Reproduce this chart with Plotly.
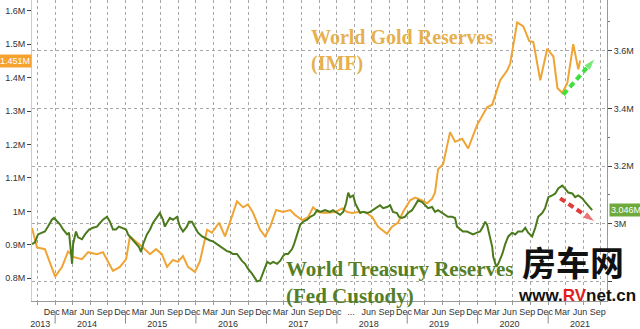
import plotly.graph_objects as go

# ---------------- data ----------------
gold_dates = ["2013-09-03","2013-09-29","2013-11-09","2014-01-01","2014-02-06","2014-03-09","2014-04-09","2014-05-20",
"2014-06-21","2014-08-06","2014-09-06","2014-10-28","2014-12-03","2015-01-04","2015-01-24","2015-02-25","2015-04-02",
"2015-05-08","2015-06-08","2015-07-09","2015-08-04","2015-09-04","2015-09-30","2015-10-26","2015-11-21","2015-12-27",
"2016-01-22","2016-02-28","2016-03-24","2016-04-30","2016-05-31","2016-06-26","2016-08-01","2016-09-02","2016-09-27",
"2016-10-24","2016-11-29","2016-12-25","2017-01-20","2017-02-20","2017-03-28","2017-05-04","2017-05-29","2017-07-05",
"2017-08-05","2017-08-31","2017-09-26","2017-11-01","2017-12-23","2018-01-29","2018-02-24","2018-03-22","2018-04-22",
"2018-05-28","2018-07-03","2018-08-03","2018-09-18","2018-10-14","2018-11-14","2018-12-10","2019-01-16","2019-02-11",
"2019-03-19","2019-04-14","2019-05-10","2019-05-25","2019-06-10","2019-07-06","2019-08-11","2019-09-06","2019-10-13",
"2019-11-13","2019-12-29","2020-02-19","2020-03-17","2020-04-27","2020-06-03","2020-06-18","2020-07-24","2020-08-25",
"2020-09-25","2020-10-16","2020-11-21","2020-12-27","2021-01-28","2021-02-18","2021-03-15","2021-04-10","2021-05-11",
"2021-06-06","2021-06-16"]
gold_values = [0.950,0.892,0.887,0.805,0.834,0.880,0.863,0.857,
0.878,0.872,0.878,0.822,0.834,0.857,0.925,0.910,0.892,
0.872,0.887,0.872,0.834,0.855,0.849,0.866,0.834,0.819,
0.851,0.945,0.936,0.966,0.925,0.968,1.030,1.012,1.021,
0.995,0.945,0.925,0.954,1.004,0.998,1.004,0.989,0.974,
0.983,1.012,0.998,0.995,0.998,1.009,0.998,0.995,0.998,
0.998,0.983,0.954,0.933,0.954,0.966,0.998,1.033,1.041,
1.033,1.024,1.038,1.056,1.126,1.141,1.237,1.208,1.217,
1.188,1.258,1.311,1.319,1.392,1.422,1.442,1.565,1.553,
1.509,1.506,1.392,1.486,1.463,1.369,1.354,1.383,1.500,
1.425,1.451]

tsy_dates = ["2013-09-03","2013-09-19","2013-10-04","2013-10-25","2013-11-09","2013-11-25","2013-12-15","2013-12-26",
"2014-01-11","2014-01-27","2014-02-11","2014-03-04","2014-03-14","2014-03-30","2014-04-04","2014-04-19","2014-04-30",
"2014-05-20","2014-06-05","2014-06-26","2014-07-16","2014-08-06","2014-08-22","2014-09-06","2014-09-27","2014-10-12",
"2014-10-28","2014-11-12","2014-11-28","2014-12-18","2015-01-04","2015-01-14","2015-02-04","2015-02-25","2015-03-12",
"2015-03-23","2015-04-02","2015-04-22","2015-05-08","2015-05-23","2015-06-13","2015-06-28","2015-07-14","2015-07-24",
"2015-08-04","2015-08-19","2015-09-04","2015-09-25","2015-10-10","2015-10-26","2015-11-15","2015-11-26","2015-12-11",
"2015-12-27","2016-01-12","2016-02-02","2016-02-28","2016-03-14","2016-03-30","2016-04-20","2016-05-05","2016-05-21",
"2016-06-10","2016-06-26","2016-07-11","2016-08-01","2016-08-12","2016-08-27","2016-09-12","2016-09-27","2016-10-18",
"2016-11-03","2016-11-13","2016-11-29","2016-12-14","2016-12-25","2017-01-05","2017-01-20","2017-02-05","2017-02-25",
"2017-03-13","2017-03-28","2017-04-08","2017-04-23","2017-05-14","2017-05-24","2017-06-09","2017-06-25","2017-07-10",
"2017-07-31","2017-08-16","2017-09-05","2017-09-21","2017-10-06","2017-11-01","2017-11-27","2017-12-12","2018-01-03",
"2018-01-18","2018-02-03","2018-02-18","2018-03-01","2018-03-11","2018-03-27","2018-04-06","2018-04-16","2018-05-02",
"2018-05-17","2018-06-07","2018-06-23","2018-07-08","2018-07-29","2018-08-13","2018-08-29","2018-09-18","2018-10-04",
"2018-10-19","2018-11-09","2018-11-19","2018-12-04","2018-12-20","2019-01-05","2019-01-26","2019-02-11","2019-02-26",
"2019-03-19","2019-04-03","2019-04-19","2019-05-10","2019-05-25","2019-06-10","2019-06-30","2019-07-16","2019-07-31",
"2019-08-21","2019-09-06","2019-09-16","2019-10-02","2019-10-17","2019-11-07","2019-11-23","2019-12-08","2019-12-29",
"2020-01-14","2020-01-29","2020-02-09","2020-02-19","2020-03-01","2020-03-17","2020-03-22","2020-04-07","2020-04-17",
"2020-05-08","2020-05-23","2020-06-08","2020-06-28","2020-07-14","2020-07-29","2020-08-19","2020-09-04","2020-09-19",
"2020-10-10","2020-10-26","2020-11-10","2020-12-01","2020-12-16","2021-01-02","2021-01-22","2021-02-07","2021-02-22",
"2021-03-15","2021-03-30","2021-04-15","2021-05-06","2021-05-21","2021-06-06","2021-06-27","2021-07-12","2021-07-28",
"2021-08-17"]
tsy_values = [2.929,2.936,2.963,2.969,2.973,2.990,3.014,3.020,
3.007,2.997,2.980,2.963,2.969,2.861,2.929,2.973,2.953,
2.946,2.963,2.980,2.986,2.990,3.003,3.014,3.024,3.007,
2.980,2.980,2.990,2.986,2.980,2.963,2.946,2.929,2.919,
2.902,2.929,2.963,2.980,3.003,3.024,3.037,3.014,2.990,
3.003,3.020,3.014,3.024,2.990,2.973,2.990,3.007,3.007,
2.990,2.969,2.956,2.946,2.942,2.939,2.929,2.922,2.912,
2.905,2.902,2.895,2.895,2.885,2.871,2.861,2.844,2.827,
2.810,2.800,2.803,2.827,2.851,2.868,2.861,2.868,2.861,
2.871,2.888,2.895,2.895,2.912,2.929,2.963,2.997,3.007,
3.014,3.024,3.031,3.047,3.041,3.047,3.041,3.047,3.037,
3.031,3.041,3.071,3.108,3.092,3.098,3.071,3.058,3.037,
3.041,3.037,3.041,3.047,3.058,3.064,3.054,3.058,3.064,
3.041,3.037,3.024,3.020,3.024,3.037,3.047,3.064,3.081,
3.075,3.064,3.054,3.058,3.041,3.047,3.037,3.031,3.024,
3.024,3.020,2.990,2.980,2.973,2.973,2.969,2.963,2.969,
2.973,2.990,3.007,2.997,2.969,2.919,2.885,2.851,2.861,
2.895,2.929,2.956,2.969,2.963,2.973,2.973,2.986,2.969,
2.956,2.986,3.024,3.037,3.054,3.092,3.098,3.105,3.122,
3.132,3.122,3.108,3.105,3.092,3.098,3.088,3.075,3.064,
3.047]

gold_last = 1.451
tsy_last = 3.046

# trend arrows (start, end)
up_arrow_dates = ["2021-03-20", "2021-09-01"]
up_arrow_values = [1.349, 1.457]
down_arrow_dates = ["2021-03-04", "2021-09-01"]
down_arrow_values = [3.088, 3.007]

# axis ticks
left_tickvals = [0.8, 0.9, 1.0, 1.1, 1.2, 1.3, 1.4, 1.5, 1.6]
left_ticktext = ["0.8M", "0.9M", "1M", "1.1M", "1.2M", "1.3M", "1.4M", "1.5M", "1.6M"]
right_tickvals = [2.8, 3.0, 3.2, 3.4, 3.6]
right_ticktext = ["", "3M", "3.2M", "3.4M", "3.6M"]

x_tickvals = ["2013-10-16"]
x_ticktext = ["<br>2013"]
for yr in range(2013, 2022):
    for mo, name in [(3, "Mar"), (6, "Jun"), (9, "Sep"), (12, "Dec")]:
        d = f"{yr}-{mo:02d}-15"
        if d < "2013-12-01" or d > "2021-10-01":
            continue
        txt = name
        if yr == 2018 and mo == 3:
            txt = "..."
        if mo == 6:
            txt = f"{name}<br>{yr}"
        x_tickvals.append(d)
        x_ticktext.append(txt)
year_starts = [f"{y}-01-01" for y in range(2014, 2022)]

GOLD = "#EFA433"
GOLD_TXT = "#E6B04E"
GREEN = "#4B7A1C"
GREEN_TXT = "#557F26"
TICKFONT = dict(family="Liberation Sans, Arial", size=9, color="#333333")

fig = go.Figure()
fig.add_trace(go.Scatter(x=gold_dates, y=gold_values, mode="lines",
                         line=dict(color=GOLD, width=2), yaxis="y", showlegend=False))
fig.add_trace(go.Scatter(x=tsy_dates, y=tsy_values, mode="lines",
                         line=dict(color=GREEN, width=2), yaxis="y2", showlegend=False))
fig.add_trace(go.Scatter(x=up_arrow_dates, y=up_arrow_values, mode="lines+markers",
                         line=dict(color="#3FE03F", width=4, dash="6px,4px"),
                         marker=dict(symbol="arrow", size=[0, 13], angleref="previous", color="#3FE03F"),
                         yaxis="y", showlegend=False))
fig.add_trace(go.Scatter(x=down_arrow_dates, y=down_arrow_values, mode="lines+markers",
                         line=dict(color="#E23B3B", width=4, dash="6px,4px"),
                         marker=dict(symbol="arrow", size=[0, 13], angleref="previous", color="#E23B3B"),
                         yaxis="y2", showlegend=False))

annotations = [
    dict(text="<b>World Gold Reserves<br>(IMF)</b>", x="2017-08-10", y=1.56, xref="x", yref="y",
         xanchor="left", yanchor="top", align="left", showarrow=False,
         font=dict(family="Liberation Serif, Times New Roman", size=20, color=GOLD_TXT)),
    dict(text="<b>World Treasury Reserves<br>(Fed Custody)</b>", x="2017-04-01", y=2.893, xref="x", yref="y2",
         xanchor="left", yanchor="top", align="left", showarrow=False,
         font=dict(family="Liberation Serif, Times New Roman", size=21, color=GREEN_TXT)),
    dict(text=f"{gold_last:.3f}M", x=0, y=gold_last, xref="paper", yref="y", xanchor="right",
         yanchor="middle", showarrow=False, bgcolor="#F5A231", borderpad=1,
         font=dict(family="Liberation Sans, Arial", size=9, color="white")),
    dict(text=f"{tsy_last:.3f}M", x=1, y=tsy_last, xref="paper", yref="y2", xanchor="left",
         yanchor="middle", showarrow=False, bgcolor="#6EAA3C", borderpad=1, xshift=2,
         font=dict(family="Liberation Sans, Arial", size=9, color="white")),
    dict(text="<b>房车网</b>", x=573, y=268, xref="paper", yref="paper", showarrow=False,
         xanchor="center", yanchor="middle", borderpad=0,
         font=dict(family="Noto Sans CJK SC", size=34, color="#111111")),
    dict(text="<b>www.<span style='color:#E01E1E'>RV</span>net.cn</b>", x=577, y=302, xref="paper",
         yref="paper", showarrow=False, xanchor="center", yanchor="middle", borderpad=0,
         font=dict(family="Liberation Sans, Arial", size=17, color="#111111")),
]
# watermark positioned in pixel terms -> convert to paper coords
W, H, L, R, T, B = 640, 329, 32, 33, 0, 21
pw, ph = W - L - R, H - T - B
for a in annotations[4:]:
    a["x"] = (a["x"] - L) / pw
    a["y"] = (H - B - a["y"]) / ph

shapes = [dict(type="line", xref="x", yref="paper", x0=d, x1=d, y0=-0.035, y1=-0.075,
               line=dict(color="#888888", width=1)) for d in year_starts]

fig.update_layout(
    width=W, height=H, margin=dict(l=L, r=R, t=T, b=B),
    paper_bgcolor="white", plot_bgcolor="white",
    annotations=annotations, shapes=shapes,
    xaxis=dict(range=["2013-09-03", "2021-11-02"], tickmode="array", tickvals=x_tickvals,
               ticktext=x_ticktext, showgrid=False, ticks="", tickfont=TICKFONT, tickangle=0,
               showline=True, linecolor="#999999", linewidth=1, ticklabelstandoff=2,
               minor=dict(tick0="2013-10-01", dtick="M3", showgrid=True, griddash="dot",
                          gridcolor="#A8A8A8", gridwidth=1, ticks="outside", ticklen=3,
                          tickcolor="#999999")),
    yaxis=dict(range=[0.732, 1.632], tickmode="array", tickvals=left_tickvals, ticktext=left_ticktext,
               showgrid=False, zeroline=False, ticks="outside", ticklen=4, tickcolor="#444444",
               tickfont=TICKFONT, showline=True, linecolor="#F2C879", linewidth=1),
    yaxis2=dict(range=[2.732, 3.776], overlaying="y", side="right", tickmode="array",
                tickvals=right_tickvals, ticktext=right_ticktext, showgrid=True, griddash="dot",
                gridcolor="#A8A8A8", gridwidth=1, zeroline=False, ticks="outside", ticklen=4,
                tickcolor="#444444", tickfont=TICKFONT, showline=True, linecolor="#999999",
                linewidth=1,
                minor=dict(tick0=2.7, dtick=0.1, ticks="outside", ticklen=2, tickcolor="#777777",
                           showgrid=False)),
)
fig.write_html("out.html")
